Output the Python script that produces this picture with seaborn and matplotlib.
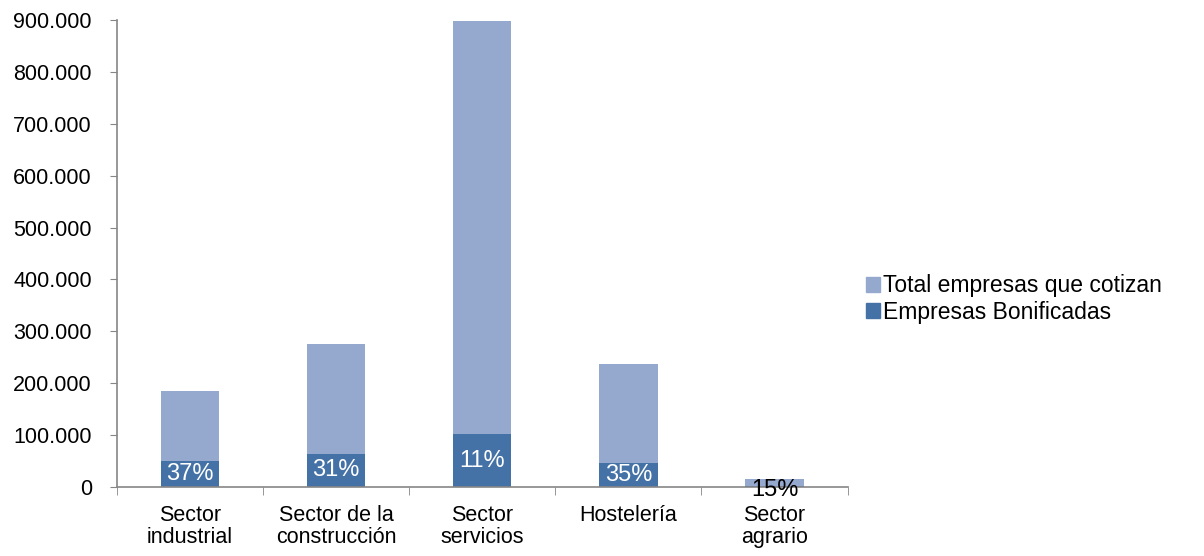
import pandas as pd
import seaborn as sns
import matplotlib.pyplot as plt
from matplotlib.ticker import FuncFormatter, FixedLocator
from matplotlib.patches import Patch

# Datos
sectores = ['Sector\nindustrial', 'Sector de la\nconstrucción', 'Sector\nservicios',
            'Hostelería', 'Sector\nagrario']
total_empresas = [185000, 275000, 898000, 238000, 15000]
bonificadas = [50000, 64000, 102000, 46000, 2000]
porcentajes = ['37%', '31%', '11%', '35%', '15%']
color_pct = ['white', 'white', 'white', 'white', 'black']

df = pd.DataFrame({'Sector': sectores, 'Total': total_empresas, 'Bonificadas': bonificadas})

sns.set_style('white')
plt.rcParams['font.family'] = ['Liberation Sans', 'DejaVu Sans']
plt.rcParams['text.color'] = 'black'
plt.rcParams['xtick.color'] = 'black'
plt.rcParams['ytick.color'] = 'black'

claro = '#95A9CF'
oscuro = '#4572A6'

fig = plt.figure(figsize=(12.04, 5.56), dpi=100)
ax = fig.add_axes([0.097, 0.124, 0.607, 0.840])

sns.barplot(data=df, x='Sector', y='Total', color=claro, width=0.4, saturation=1,
            linewidth=0, ax=ax)
sns.barplot(data=df, x='Sector', y='Bonificadas', color=oscuro, width=0.4, saturation=1,
            linewidth=0, ax=ax)

# etiquetas de porcentaje centradas en la parte bonificada
for i, (b, p, c) in enumerate(zip(bonificadas, porcentajes, color_pct)):
    ypos = max(b / 2, 18000) if c == 'white' else -5000
    ax.text(i, ypos, p, ha='center', va='center', fontsize=17, color=c)

ax.set_xlim(-0.5, len(sectores) - 0.5)
ax.set_ylim(0, 900000)
ax.yaxis.set_major_locator(FixedLocator(range(0, 900001, 100000)))
ax.yaxis.set_major_formatter(FuncFormatter(lambda v, _: f'{int(v):,}'.replace(',', '.')))
ax.set_xlabel('')
ax.set_ylabel('')

for s in ['top', 'right']:
    ax.spines[s].set_visible(False)
for s in ['left', 'bottom']:
    ax.spines[s].set_color('#868686')
    ax.spines[s].set_linewidth(1.2)

ax.tick_params(axis='y', which='major', direction='out', length=5, color='#868686',
               labelsize=15.5, left=True, pad=13)
ax.tick_params(axis='x', which='major', length=0, labelsize=15.5, pad=13)
for lab in ax.get_xticklabels():
    lab.set_linespacing(1.05)
ax.set_xticks([x - 0.5 for x in range(len(sectores) + 1)], minor=True)
ax.tick_params(axis='x', which='minor', direction='out', length=6, color='#868686', bottom=True)

handles = [Patch(color=claro, label='Total empresas que cotizan'),
           Patch(color=oscuro, label='Empresas Bonificadas')]
fig.legend(handles=handles, loc='center left', bbox_to_anchor=(0.702, 0.462), frameon=False,
           fontsize=16.5, handlelength=0.6, handleheight=0.6, handletextpad=0.15,
           labelspacing=0.15)

fig.savefig('out.png', dpi=100)
